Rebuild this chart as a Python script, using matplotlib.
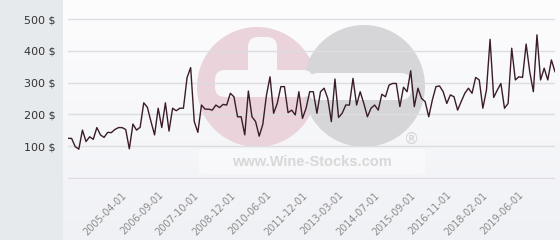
import matplotlib
matplotlib.use("Agg")
import matplotlib.pyplot as plt
import numpy as np
from matplotlib.patches import Circle, FancyBboxPatch, Rectangle
from matplotlib.colors import LinearSegmentedColormap
from matplotlib.transforms import ScaledTranslation

# ---- data ----
prices = [
    124, 124, 98, 90, 150, 114, 129, 121, 158, 135, 127, 143, 142, 152, 158, 158,
    152, 91, 169, 150, 159, 236, 222, 177, 135, 219, 158, 236, 147, 219, 211, 219,
    219, 315, 347, 177, 143, 229, 216, 216, 213, 229, 221, 231, 229, 266, 255, 192,
    192, 135, 273, 192, 177, 131, 168, 259, 318, 203,
    234, 287, 287, 205, 213, 198, 271, 187, 219, 271, 271, 203, 271, 282, 250, 177,
    311, 190, 203, 229, 229, 313, 229, 271, 234, 192, 219, 229, 213, 263, 255, 292,
    297, 297, 224, 285, 271, 337, 224, 282, 250, 240, 192, 245, 287, 289, 271, 234,
    261, 255, 213, 240, 266, 282, 266, 316, 308, 219, 276, 436, 253, 276, 297, 219,
    234, 408, 308, 318, 316, 421, 334, 271, 450, 308, 345, 308, 371, 334,
]
tick_labels = [
    "2005-04-01", "2006-09-01", "2007-10-01", "2008-12-01", "2010-06-01",
    "2011-12-01", "2013-03-01", "2014-07-01", "2015-09-01", "2016-11-01",
    "2018-02-01", "2019-06-01",
]
tick_index = list(range(16, 16 + 10 * len(tick_labels), 10))
y_ticks = [0, 100, 200, 300, 400, 500]

W, H = 560, 240
fig = plt.figure(figsize=(W / 100, H / 100), dpi=100)
fig.patch.set_facecolor("#f7f8fa")

# background gradient for plot region
bg = fig.add_axes([63 / W, 0, (W - 63) / W, 1], zorder=0)
grad = np.linspace(0, 1, 256).reshape(-1, 1)
cmap = LinearSegmentedColormap.from_list("g", ["#fdfdfe", "#f0f1f5"])
bg.imshow(grad, aspect="auto", cmap=cmap, extent=[0, 1, 0, 1])
bg.set_axis_off()

# left grey panel
fig.patches.append(Rectangle((0, 0), 63 / W, 1, transform=fig.transFigure,
                             facecolor="#e6eaed", edgecolor="none", zorder=1))

# watermark layer in pixel coords
wm = fig.add_axes([0, 0, 1, 1], zorder=1)
wm.set_xlim(0, W)
wm.set_ylim(H, 0)
wm.set_axis_off()
wm.patch.set_alpha(0)
wm.add_patch(FancyBboxPatch((199, 149), 226, 25, boxstyle="round,pad=0,rounding_size=3",
                            facecolor="#ffffff", edgecolor="none", alpha=0.45))
wm.add_patch(Circle((257, 87), 60, facecolor="#ead3da", edgecolor="none"))
wm.add_patch(Circle((364, 86), 61, facecolor="#d6d6d8", edgecolor="none"))
# plus in pink circle
wm.add_patch(FancyBboxPatch((248, 37), 29, 50, boxstyle="round,pad=0,rounding_size=10",
                            facecolor="#f8f8fa", edgecolor="none"))
wm.add_patch(FancyBboxPatch((215, 70), 98, 27, boxstyle="round,pad=0,rounding_size=10",
                            facecolor="#f8f8fa", edgecolor="none"))
# minus in grey circle
wm.add_patch(FancyBboxPatch((308, 73), 103, 27, boxstyle="round,pad=0,rounding_size=10",
                            facecolor="#f8f8fa", edgecolor="none"))
wm.text(312, 162, "www.Wine-Stocks.com", ha="center", va="center",
        fontsize=10.5, fontweight="bold", color="#d8d8d8", family="Liberation Sans")
wm.text(412, 139, "®", ha="center", va="center", fontsize=11, color="#d2d2d4",
        family="DejaVu Sans")

# main axes (value 0 at y=177.75 px, 0.3175 px per unit)
ymin, ymax = -4, 560
ppu = 0.3175
bottom_px = 177.75 + (-ymin) * ppu
height_px = (ymax - ymin) * ppu
ax = fig.add_axes([68 / W, (H - bottom_px) / H, (555 - 68) / W, height_px / H], zorder=2)
ax.patch.set_alpha(0)
x = np.arange(len(prices))
ax.plot(x, prices, color="#3b1c29", lw=1.0, zorder=3)
ax.set_xlim(0, len(prices) - 1)
ax.set_ylim(ymin, ymax)
ax.set_yticks(y_ticks)
ax.set_yticklabels([("" if v == 0 else f"{v} $") for v in y_ticks])
ax.grid(axis="y", color="#dcdde1", lw=1.0)
ax.set_axisbelow(True)
for s in ax.spines.values():
    s.set_visible(False)
ax.tick_params(axis="y", length=0, pad=9, labelsize=8, labelcolor="#333333")
ax.set_xticks(tick_index)
ax.set_xticklabels(tick_labels, rotation=45, ha="right", rotation_mode="anchor",
                   fontsize=7, color="#8c8c8c")
ax.tick_params(axis="x", length=0, pad=8)
shift = ScaledTranslation(-4 / 100, 0, fig.dpi_scale_trans)
for lbl in ax.get_xticklabels():
    lbl.set_transform(lbl.get_transform() + shift)

fig.savefig("out.png", dpi=100)
